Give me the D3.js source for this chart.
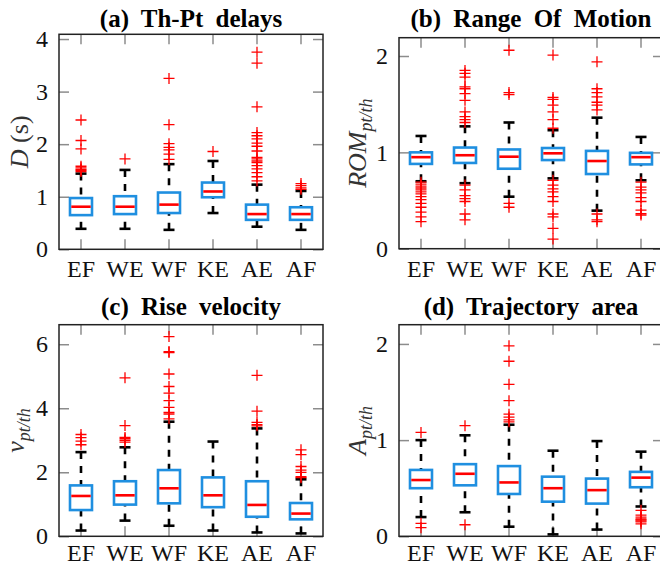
<!DOCTYPE html>
<html>
<head>
<meta charset="utf-8">
<script src="https://cdn.jsdelivr.net/npm/d3@7"></script>
<style>
  body { margin: 0; background: #fff; }
  svg { display: block; font-family: "Liberation Serif", "Times New Roman", serif; }
</style>
</head>
<body>
<div id="chart"></div>
<script>

// ---------------------------------------------------------------------------------------
// Data

const categories = ["EF", "WE", "WF", "KE", "AE", "AF"];

// (a) Th-Pt delays, D (s)
const delayTicks = [0, 1, 2, 3, 4];
const delayLow = [0.39, 0.39, 0.37, 0.69, 0.43, 0.37];
const delayQ1 = [0.65, 0.67, 0.69, 0.99, 0.56, 0.56];
const delayMed = [0.81, 0.81, 0.85, 1.10, 0.67, 0.67];
const delayQ3 = [0.975, 1.01, 1.08, 1.27, 0.85, 0.80];
const delayHigh = [1.44, 1.51, 1.62, 1.68, 1.23, 1.11];
const delayOut = [
    [2.46, 2.07, 1.91, 1.58, 1.55, 1.52, 1.50, 1.48],
    [1.72],
    [3.25, 2.37, 2.01, 1.94, 1.89, 1.81, 1.71],
    [1.86],
    [3.75, 3.54, 2.71, 2.22, 2.16, 2.10, 2.02, 1.96, 1.87, 1.75, 1.72, 1.68, 1.65, 1.59, 1.53, 1.46, 1.38, 1.30],
    [1.25, 1.21, 1.17, 1.14]
];

// (b) Range Of Motion, ROM pt/th
const romTicks = [0, 1, 2];
const romLow = [0.70, 0.68, 0.54, 0.73, 0.395, 0.71];
const romQ1 = [0.88, 0.89, 0.83, 0.92, 0.775, 0.875];
const romMed = [0.95, 0.97, 0.955, 0.99, 0.91, 0.95];
const romQ3 = [1.00, 1.05, 1.03, 1.045, 1.015, 0.995];
const romHigh = [1.17, 1.27, 1.31, 1.23, 1.36, 1.16];
const romOut = [
    [0.69, 0.67, 0.65, 0.63, 0.61, 0.59, 0.57, 0.54, 0.51, 0.47, 0.43, 0.38, 0.33, 0.28],
    [1.85, 1.82, 1.78, 1.68, 1.66, 1.61, 1.54, 1.42, 1.37, 1.34, 1.31, 0.66, 0.61, 0.55, 0.52, 0.49, 0.36, 0.30],
    [2.06, 1.62, 1.60, 0.47, 0.43],
    [2.01, 1.57, 1.55, 1.49, 1.42, 1.34, 1.25, 0.71, 0.66, 0.62, 0.59, 0.54, 0.49, 0.36, 0.33, 0.21, 0.10],
    [1.94, 1.66, 1.62, 1.575, 1.52, 1.49, 1.44, 0.36, 0.30, 0.28],
    [0.69, 0.64, 0.61, 0.58, 0.53, 0.49, 0.40, 0.365, 0.35]
];

// (c) Rise velocity, v pt/th
const velTicks = [0, 2, 4, 6];
const velLow = [0.18, 0.49, 0.33, 0.18, 0.12, 0.09];
const velQ1 = [0.82, 0.99, 1.03, 0.91, 0.61, 0.53];
const velMed = [1.26, 1.28, 1.50, 1.28, 0.98, 0.71];
const velQ3 = [1.59, 1.72, 2.07, 1.84, 1.72, 1.04];
const velHigh = [2.63, 2.78, 3.58, 2.96, 3.37, 1.78];
const velOut = [
    [3.18, 3.08, 2.97, 2.86],
    [4.95, 3.46, 3.09, 3.05, 3.00, 2.94],
    [6.24, 5.77, 5.74, 5.07, 4.68, 4.47, 4.24, 4.03, 3.87, 3.82, 3.67],
    [],
    [5.03, 3.91, 3.56, 3.49, 3.45],
    [2.70, 2.55, 2.18, 2.07, 2.00, 1.86, 1.83]
];

// (d) Trajectory area, A pt/th
const areaTicks = [0, 1, 2];
const areaLow = [0.20, 0.25, 0.10, 0.02, 0.07, 0.31];
const areaQ1 = [0.50, 0.53, 0.44, 0.36, 0.34, 0.51];
const areaMed = [0.585, 0.65, 0.56, 0.50, 0.48, 0.61];
const areaQ3 = [0.69, 0.75, 0.73, 0.62, 0.60, 0.67];
const areaHigh = [1.00, 1.05, 1.16, 0.89, 0.99, 0.88];
const areaOut = [
    [1.08, 0.135, 0.09],
    [1.15, 0.12],
    [1.98, 1.82, 1.58, 1.41, 1.27, 1.24, 1.21, 1.19],
    [],
    [],
    [0.27, 0.22, 0.20, 0.18, 0.17, 0.16, 0.15, 0.13]
];

// ---------------------------------------------------------------------------------------
// Canvas

const svg = d3.select("#chart")
    .append("svg")
    .attr("width", 660)
    .attr("height", 566);

const blue = "#1f8fe0";
const red = "#ff0000";
const tickGrey = "#8c8c8c";

const plotW = 264;

// one box plot panel
function drawPanel(p) {

    const g = svg.append("g")
        .attr("transform", `translate(${p.left}, ${p.top})`);

    const x = d3.scaleBand()
        .domain(categories)
        .range([0, plotW])
        .padding(0);

    const y = d3.scaleLinear()
        .domain([0, p.ymax])
        .range([p.height, 0]);

    const bw = x.bandwidth() / 2;
    const cx = c => x(c) + x.bandwidth() / 2;

    // axes with ticks pointing inward
    const styleAxis = sel => {
        sel.select(".domain").remove();
        sel.selectAll(".tick line").attr("stroke", tickGrey).attr("stroke-width", 1.5);
        sel.selectAll(".tick text")
            .attr("font-family", "Liberation Serif, serif")
            .attr("font-size", 24)
            .attr("fill", "#111");
    };

    g.append("g")
        .attr("transform", `translate(0, ${p.height})`)
        .call(d3.axisBottom(x).tickSizeInner(-10).tickSizeOuter(0).tickPadding(p.xPad))
        .call(styleAxis);

    g.append("g")
        .call(d3.axisTop(x).tickSizeInner(-10).tickSizeOuter(0).tickFormat(""))
        .call(styleAxis);

    g.append("g")
        .call(d3.axisLeft(y).tickValues(p.ticks).tickFormat(d3.format("d"))
            .tickSizeInner(-10).tickSizeOuter(0).tickPadding(11))
        .call(styleAxis);

    g.append("g")
        .attr("transform", `translate(${plotW}, 0)`)
        .call(d3.axisRight(y).tickValues(p.ticks).tickSizeInner(-10).tickSizeOuter(0).tickFormat(""))
        .call(styleAxis);

    // frame
    g.append("rect")
        .attr("width", plotW)
        .attr("height", p.height)
        .attr("fill", "none")
        .attr("stroke", "#222")
        .attr("stroke-width", 1.5);

    const stats = categories.map((c, i) => ({
        cat: c, lo: p.low[i], q1: p.q1[i], med: p.med[i], q3: p.q3[i], hi: p.high[i], out: p.out[i]
    }));

    // whiskers (dashed)
    const whisk = g.append("g")
        .attr("stroke", "#000")
        .attr("stroke-width", 2.6)
        .attr("stroke-dasharray", "7,7");

    whisk.selectAll(".wu")
        .data(stats)
        .join("line")
        .attr("x1", d => cx(d.cat)).attr("x2", d => cx(d.cat))
        .attr("y1", d => y(d.hi)).attr("y2", d => y(d.q3));

    whisk.selectAll(".wl")
        .data(stats)
        .join("line")
        .attr("x1", d => cx(d.cat)).attr("x2", d => cx(d.cat))
        .attr("y1", d => y(d.lo)).attr("y2", d => y(d.q1));

    // caps
    const caps = g.append("g")
        .attr("stroke", "#000")
        .attr("stroke-width", 2.6);

    ["hi", "lo"].forEach(k => {
        caps.selectAll(".c" + k)
            .data(stats)
            .join("line")
            .attr("x1", d => cx(d.cat) - bw / 4).attr("x2", d => cx(d.cat) + bw / 4)
            .attr("y1", d => y(d[k])).attr("y2", d => y(d[k]));
    });

    // boxes
    g.selectAll(".box")
        .data(stats)
        .join("rect")
        .attr("x", d => cx(d.cat) - bw / 2)
        .attr("y", d => y(d.q3))
        .attr("width", bw)
        .attr("height", d => y(d.q1) - y(d.q3))
        .attr("fill", "none")
        .attr("stroke", blue)
        .attr("stroke-width", 2.6);

    // medians
    g.selectAll(".med")
        .data(stats)
        .join("line")
        .attr("x1", d => cx(d.cat) - bw / 2 + 1.3)
        .attr("x2", d => cx(d.cat) + bw / 2 - 1.3)
        .attr("y1", d => y(d.med))
        .attr("y2", d => y(d.med))
        .attr("stroke", red)
        .attr("stroke-width", 2.6);

    // outliers "+"
    const pts = stats.flatMap(d => d.out.map(v => ({ cat: d.cat, v: v })));
    const s = 5.5;
    g.selectAll(".out")
        .data(pts)
        .join("path")
        .attr("d", d => {
            const px = cx(d.cat), py = y(d.v);
            return `M${px - s},${py}H${px + s}M${px},${py - s}V${py + s}`;
        })
        .attr("stroke", red)
        .attr("stroke-width", 1.3)
        .attr("fill", "none");

    // title
    svg.append("text")
        .attr("x", p.left + plotW / 2)
        .attr("y", p.titleY)
        .attr("text-anchor", "middle")
        .attr("font-weight", "bold")
        .attr("font-size", 25)
        .attr("word-spacing", 6)
        .attr("fill", "#000")
        .text(p.title);

    // y label (rotated)
    const lab = svg.append("text")
        .attr("transform", `translate(${p.labelX}, ${p.top + p.height / 2}) rotate(-90)`)
        .attr("text-anchor", "middle")
        .attr("font-size", 26)
        .attr("fill", "#333");

    lab.append("tspan")
        .attr("font-style", "italic")
        .text(p.labelMain);

    if (p.labelSub) {
        lab.append("tspan")
            .attr("font-style", "italic")
            .attr("font-size", 18)
            .attr("dy", "0.35em")
            .text(p.labelSub);
    }
    if (p.labelRest) {
        lab.append("tspan").text(p.labelRest);
    }
}

drawPanel({
    left: 59, top: 34.3, height: 215, ymax: 4.09, ticks: delayTicks, xPad: 11,
    low: delayLow, q1: delayQ1, med: delayMed, q3: delayQ3, high: delayHigh, out: delayOut,
    title: "(a) Th-Pt delays", titleY: 27,
    labelX: 28, labelMain: "D", labelRest: " (s)"
});

drawPanel({
    left: 399, top: 37.7, height: 211, ymax: 2.19, ticks: romTicks, xPad: 11,
    low: romLow, q1: romQ1, med: romMed, q3: romQ3, high: romHigh, out: romOut,
    title: "(b) Range Of Motion", titleY: 27,
    labelX: 366, labelMain: "ROM", labelSub: "pt/th"
});

drawPanel({
    left: 59, top: 324.7, height: 211.6, ymax: 6.61, ticks: velTicks, xPad: 7.5,
    low: velLow, q1: velQ1, med: velMed, q3: velQ3, high: velHigh, out: velOut,
    title: "(c) Rise velocity", titleY: 315,
    labelX: 24, labelMain: "v", labelSub: "pt/th"
});

drawPanel({
    left: 399, top: 324.7, height: 211.6, ymax: 2.2, ticks: areaTicks, xPad: 7.5,
    low: areaLow, q1: areaQ1, med: areaMed, q3: areaQ3, high: areaHigh, out: areaOut,
    title: "(d) Trajectory area", titleY: 315,
    labelX: 366, labelMain: "A", labelSub: "pt/th"
});

</script>
</body>
</html>
